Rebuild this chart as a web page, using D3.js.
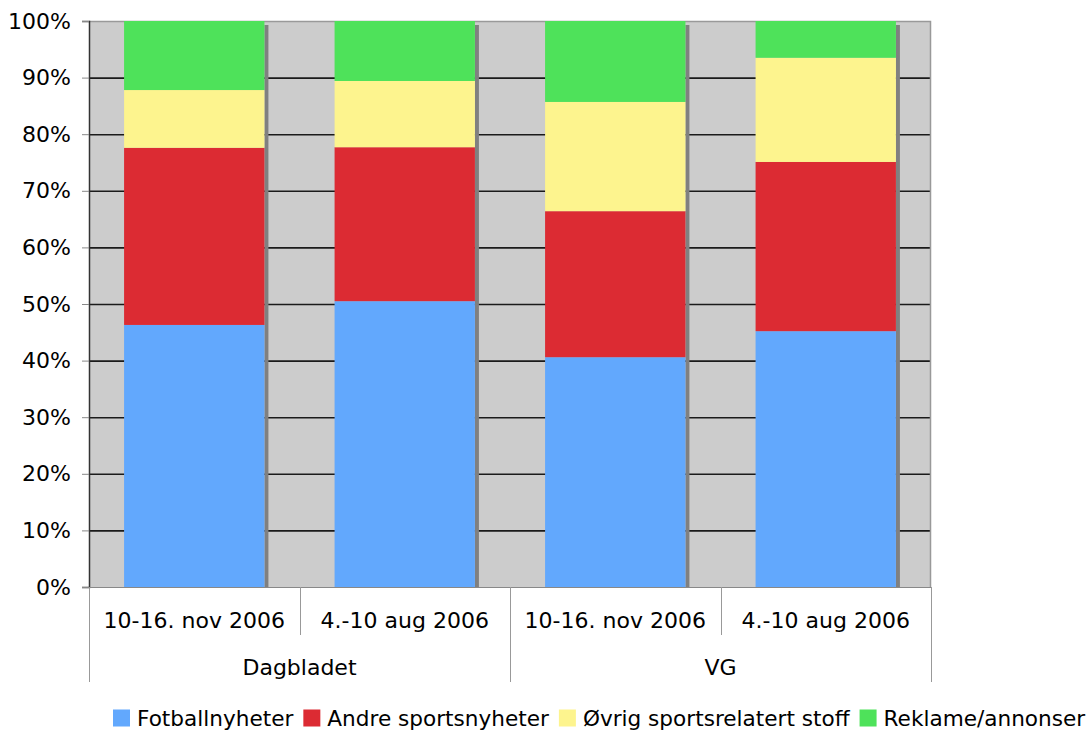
<!DOCTYPE html>
<html>
<head>
<meta charset="utf-8">
<script src="https://cdn.jsdelivr.net/npm/d3@7"></script>
<style>
  body { margin: 0; background: #fff; }
  text { font-family: "DejaVu Sans", Verdana, sans-serif; fill: #000; }
</style>
</head>
<body>
<svg id="chart" width="1089" height="731"></svg>
<script>
const periods = ["10-16. nov 2006", "4.-10 aug 2006", "10-16. nov 2006", "4.-10 aug 2006"];
const papers = ["Dagbladet", "VG"];
const seriesNames = ["Fotballnyheter", "Andre sportsnyheter", "Øvrig sportsrelatert stoff", "Reklame/annonser"];
const fotball = [46.3, 50.5, 40.6, 45.2];
const andre = [31.3, 27.2, 25.8, 29.9];
const ovrig = [10.2, 11.7, 19.3, 18.4];
const reklame = [12.2, 10.6, 14.3, 6.5];
const colors = ["#62a8fd", "#dc2b33", "#fdf48e", "#4ee25a"];
const yTicks = [0, 10, 20, 30, 40, 50, 60, 70, 80, 90, 100];

const svg = d3.select("#chart");
const plotL = 89, plotR = 931, plotT = 21, plotB = 587;

const rows = periods.map((p, i) => ({
  key: i,
  Fotballnyheter: fotball[i],
  "Andre sportsnyheter": andre[i],
  "Øvrig sportsrelatert stoff": ovrig[i],
  "Reklame/annonser": reklame[i]
}));
const stacked = d3.stack().keys(seriesNames)(rows);

const x = d3.scaleBand().domain(d3.range(periods.length)).range([plotL, plotR]).paddingInner(1 / 3).paddingOuter(1 / 6);
const y = d3.scaleLinear().domain([0, 100]).range([plotB, plotT]);

// plot background
svg.append("rect").attr("x", plotL).attr("y", plotT).attr("width", plotR - plotL).attr("height", plotB - plotT)
  .attr("fill", "#cccccc");

// gridlines
svg.append("g").selectAll("line").data(yTicks.slice(1, -1)).join("line")
  .attr("x1", plotL).attr("x2", plotR).attr("y1", d => y(d) + 0.5).attr("y2", d => y(d) + 0.5)
  .attr("stroke", "#1a1a1a").attr("stroke-width", 1.6);

// border top & right
svg.append("path").attr("d", `M${plotL},${plotT + 0.5}H${plotR - 0.5}V${plotB}`)
  .attr("fill", "none").attr("stroke", "#999").attr("stroke-width", 1.5);

// bar shadows
svg.append("g").selectAll("rect").data(rows).join("rect")
  .attr("x", d => x(d.key) + x.bandwidth()).attr("y", plotT + 4)
  .attr("width", 4).attr("height", plotB - plotT - 4)
  .attr("fill", "#808080");

// bars
svg.append("g").selectAll("g").data(stacked).join("g")
  .attr("fill", (d, i) => colors[i])
  .selectAll("rect").data(d => d).join("rect")
  .attr("x", d => x(d.data.key)).attr("width", x.bandwidth())
  .attr("y", d => y(d[1])).attr("height", d => y(d[0]) - y(d[1]));

// y axis
const yAxis = d3.axisLeft(y).tickValues(yTicks).tickFormat(d => d + "%").tickSize(7).tickPadding(11);
const ya = svg.append("g").attr("transform", `translate(${plotL},0)`).call(yAxis);
ya.select(".domain").attr("stroke", "#333").attr("stroke-width", 1.5);
ya.selectAll(".tick line").attr("stroke", "#888");
ya.selectAll("text").attr("font-size", 22).attr("font-family", "DejaVu Sans, Verdana, sans-serif");

// x axis baseline
svg.append("line").attr("x1", plotL - 7).attr("x2", plotR).attr("y1", plotB + 0.5).attr("y2", plotB + 0.5)
  .attr("stroke", "#888").attr("stroke-width", 1);

// category separators
const step = x.step();
const edges = d3.range(periods.length + 1).map(i => plotL + i * step);
svg.append("g").selectAll("line").data(edges).join("line")
  .attr("x1", d => Math.round(d) + 0.5).attr("x2", d => Math.round(d) + 0.5)
  .attr("y1", plotB).attr("y2", (d, i) => i % 2 === 0 ? 682 : 635)
  .attr("stroke", "#999").attr("stroke-width", 1);

svg.append("g").selectAll("text").data(periods).join("text")
  .attr("x", (d, i) => plotL + (i + 0.5) * step).attr("y", 628)
  .attr("text-anchor", "middle").attr("font-size", 22).text(d => d);

svg.append("g").selectAll("text").data(papers).join("text")
  .attr("x", (d, i) => plotL + (i + 0.5) * step * 2).attr("y", 675)
  .attr("text-anchor", "middle").attr("font-size", 22).text(d => d);

// legend
const legend = svg.append("g").attr("transform", "translate(0,726)");
let lx = 113;
seriesNames.forEach((name, i) => {
  legend.append("rect").attr("x", lx).attr("y", -16.5).attr("width", 17).attr("height", 17).attr("fill", colors[i]);
  const t = legend.append("text").attr("x", lx + 24).attr("y", 0).attr("font-size", 21.6).text(name);
  lx += 24 + t.node().getComputedTextLength() + 10;
});
</script>
</body>
</html>
